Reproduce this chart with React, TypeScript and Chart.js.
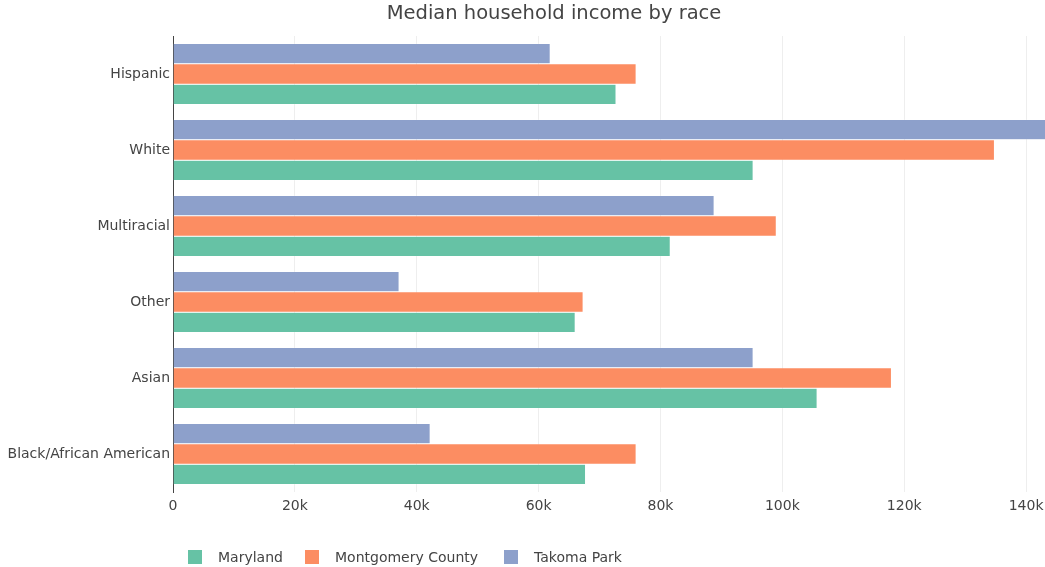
import React, { useEffect, useRef } from "react";
import { Chart, registerables } from "chart.js";

Chart.register(...registerables);

const categories = ["Hispanic", "White", "Multiracial", "Other", "Asian", "Black/African American"];
const maryland = [72700, 95200, 81600, 66000, 105700, 67700];
const montgomery = [76000, 134800, 99000, 67300, 117900, 76000];
const takoma = [61900, 146000, 88800, 37100, 95200, 42200];
const seriesNames = ["Maryland", "Montgomery County", "Takoma Park"];
const seriesColors = ["#66c2a5", "#fc8d62", "#8da0cb"];
const xTicks = [0, 20000, 40000, 60000, 80000, 100000, 120000, 140000];
const titleText = "Median household income by race";
const FONT = "'DejaVu Sans', Verdana, sans-serif";

const titlePlugin = {
  id: "customTitle",
  afterDraw(chart: any) {
    const ctx = chart.ctx;
    ctx.save();
    ctx.font = `19.5px ${FONT}`;
    ctx.fillStyle = "#444";
    ctx.textAlign = "center";
    ctx.textBaseline = "middle";
    ctx.fillText(titleText, 554, 14);
    ctx.restore();
  },
};

export default function App() {
  const ref = useRef<HTMLCanvasElement | null>(null);
  useEffect(() => {
    if (!ref.current) return;
    const chart = new Chart(ref.current, {
      type: "bar",
      data: {
        labels: categories,
        datasets: [
          { label: seriesNames[2], data: takoma, backgroundColor: seriesColors[2], borderColor: "rgba(255,255,255,0.6)", borderWidth: 0.5 },
          { label: seriesNames[1], data: montgomery, backgroundColor: seriesColors[1], borderColor: "rgba(255,255,255,0.6)", borderWidth: 0.5 },
          { label: seriesNames[0], data: maryland, backgroundColor: seriesColors[0], borderColor: "rgba(255,255,255,0.6)", borderWidth: 0.5 },
        ],
      },
      options: {
        indexAxis: "y",
        animation: false,
        responsive: true,
        maintainAspectRatio: false,
        layout: { padding: { top: 36, bottom: 45, left: 0, right: 0 } },
        datasets: { bar: { categoryPercentage: 0.8, barPercentage: 1.0 } },
        plugins: {
          legend: { display: false },
          title: { display: false },
          tooltip: { enabled: false },
        },
        scales: {
          x: {
            min: 0,
            max: 143100,
            grid: { color: "#eeeeee", drawTicks: false, lineWidth: 1 },
            border: { display: false },
            afterBuildTicks: (scale: any) => {
              scale.ticks = xTicks.map((v) => ({ value: v }));
            },
            afterFit: (scale: any) => {
              scale.height = 30;
              scale.paddingLeft = 0;
              scale.paddingRight = 0;
            },
            ticks: {
              includeBounds: false,
              padding: 6,
              color: "#444",
              font: { family: FONT, size: 14 },
              maxRotation: 0,
              autoSkip: false,
              callback: (v: any) => (Number(v) === 0 ? "0" : `${Number(v) / 1000}k`),
            },
          },
          y: {
            grid: { display: false, drawTicks: false },
            border: { display: true, color: "#444", width: 1 },
            afterFit: (scale: any) => {
              scale.width = 173;
              scale.paddingTop = 0;
              scale.paddingBottom = 0;
            },
            ticks: {
              padding: 3,
              color: "#444",
              font: { family: FONT, size: 14 },
            },
          },
        },
      },
      plugins: [titlePlugin],
    });
    return () => chart.destroy();
  }, []);

  const legendOrder = [0, 1, 2];
  const legendX = [188, 305, 504];
  return (
    <div style={{ position: "fixed", left: 0, top: 0, width: 1045, height: 567, background: "#fff" }}>
      <canvas ref={ref} />
      {legendOrder.map((i) => (
        <div
          key={i}
          style={{
            position: "absolute",
            left: legendX[i],
            top: 549,
            height: 16,
            display: "flex",
            alignItems: "center",
            fontFamily: FONT,
            fontSize: 14,
            color: "#444",
            whiteSpace: "nowrap",
          }}
        >
          <span style={{ display: "inline-block", width: 14, height: 14, background: seriesColors[i], marginRight: 16 }} />
          <span>{seriesNames[i]}</span>
        </div>
      ))}
    </div>
  );
}
